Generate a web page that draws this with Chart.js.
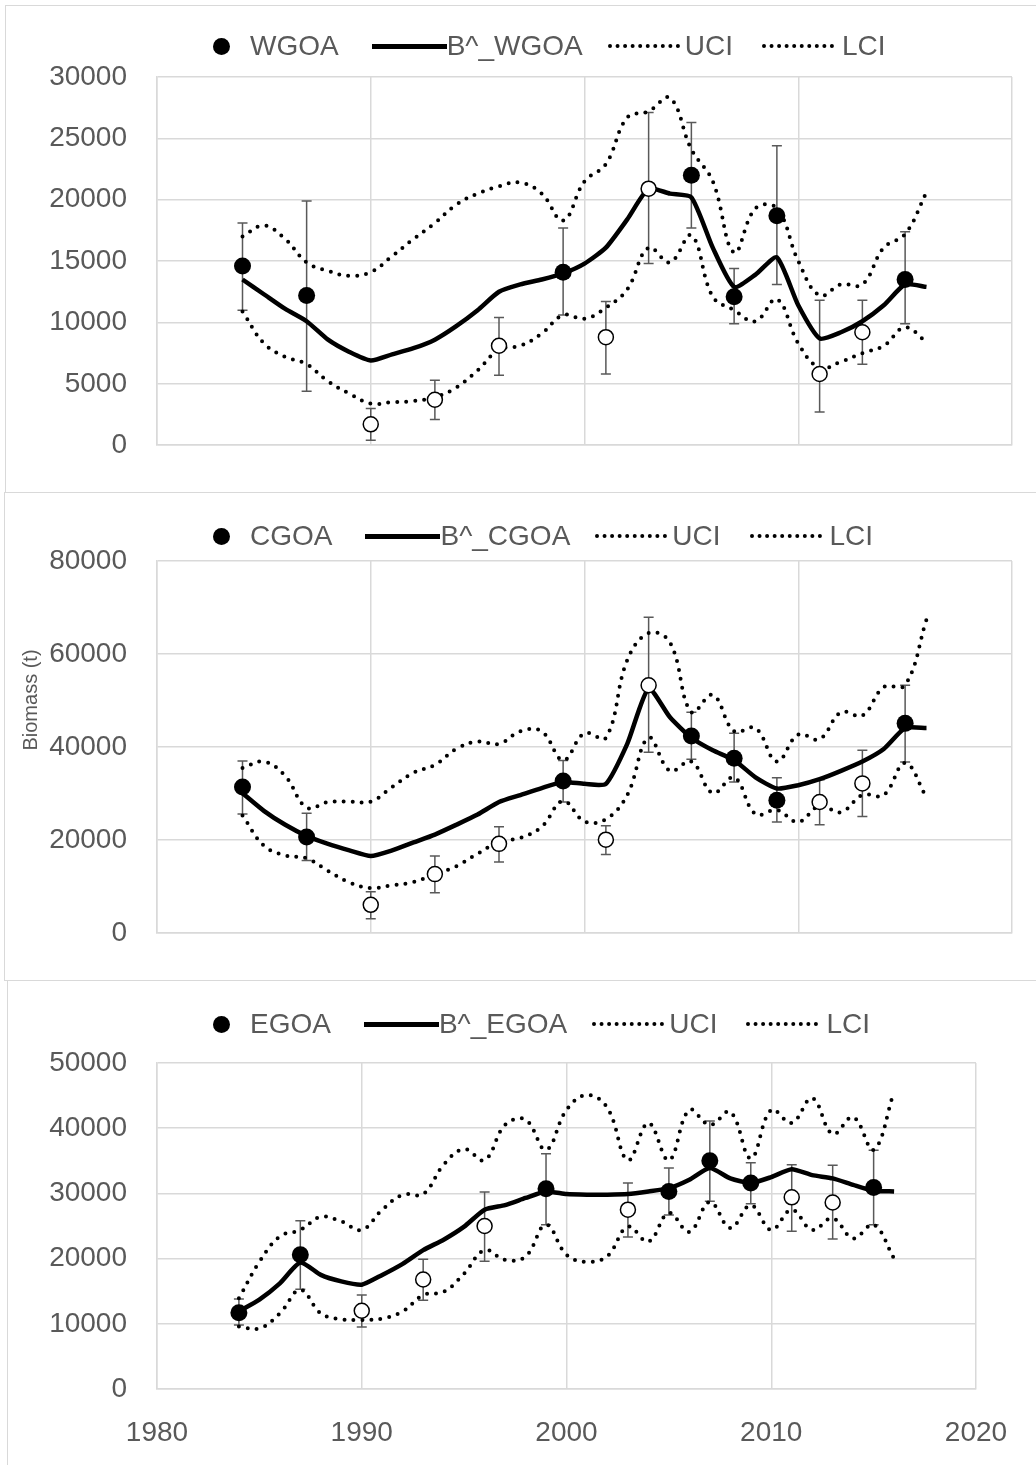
<!DOCTYPE html>
<html>
<head>
<meta charset="utf-8">
<script src="https://cdn.jsdelivr.net/npm/chart.js@4.4.1/dist/chart.umd.min.js"></script>
<style>
  body { margin: 0; width: 1036px; height: 1465px; overflow: hidden; background: #fff; position: relative;
         font-family: "Liberation Sans", Arial, sans-serif; }
  .frame { position: absolute; border: 1.5px solid #d9d9d9; box-sizing: border-box; }
  canvas { position: absolute; left: 0; }
  .legend { position: absolute; left: 213px; display: flex; align-items: center; font-size: 28px;
            line-height: 34px; color: #595959; white-space: nowrap; }
  .dot { width: 17px; height: 17px; border-radius: 50%; background: #000; }
  .solid { width: 75px; height: 5px; background: #000; }
  .dotted { width: 72px; height: 0; border-top: 4px dotted #000; }
  .ytitle { position: absolute; left: -40px; top: 688px; width: 140px; height: 24px; line-height: 24px;
            text-align: center; font-size: 20px; color: #595959; transform: rotate(-90deg); }
</style>
</head>
<body>
<div class="frame" style="left:5px;top:5px;width:1100px;height:488px"></div>
<div class="frame" style="left:4px;top:492px;width:1100px;height:489px"></div>
<div class="frame" style="left:7px;top:980px;width:1100px;height:600px"></div>

<canvas id="c-wgoa" width="1036" height="492" style="top:0px"></canvas>
<canvas id="c-cgoa" width="1036" height="487" style="top:493px"></canvas>
<canvas id="c-egoa" width="1036" height="484" style="top:981px"></canvas>

<div class="legend" id="lg-wgoa" style="top:29px"></div>
<div class="legend" id="lg-cgoa" style="top:519px"></div>
<div class="legend" id="lg-egoa" style="top:1007px"></div>
<div class="ytitle">Biomass (t)</div>

<script>
// model years for B^ and the confidence limits
let modelYears = [1984, 1985, 1986, 1987, 1988, 1989, 1990, 1991, 1992, 1993, 1994, 1995, 1996, 1997, 1998, 1999, 2000,
    2001, 2002, 2003, 2004, 2005, 2006, 2007, 2008, 2009, 2010, 2011, 2012, 2013, 2014, 2015, 2016];

// ---- WGOA ----
let wYears = [1984, 1987, 1990, 1993, 1996, 1999, 2001, 2003, 2005, 2007, 2009, 2011, 2013, 2015];
let wObs = [14600, 12200, 1700, 3700, 8100, 14100, 8800, 20900, 22000, 12100, 18700, 5800, 9200, 13500];
let wHi = [18100, 19900, 3000, 5300, 10400, 17700, 11700, 27100, 26300, 14400, 24400, 11800, 11800, 17400];
let wLo = [11000, 4400, 400, 2100, 5700, 10600, 5800, 14800, 17700, 9900, 13100, 2700, 6600, 9900];
let wOpen = [1990, 1993, 1996, 2001, 2003, 2011, 2013];
let wFit = [13500, 12300, 11100, 10100, 8600, 7600, 6900, 7400, 7900, 8600, 9700, 11000, 12500, 13100, 13500, 14000, 14800,
    16100, 18400, 20900, 20500, 20200, 16100, 12900, 13900, 15300, 11400, 8700, 9200, 10100, 11400, 13100, 12900];
let wUci = [17000, 17900, 16800, 14900, 14200, 13800, 14100, 15400, 16800, 18100, 19600, 20500, 21100, 21400, 20500, 18300, 21500,
    22900, 26700, 27200, 28300, 24100, 21500, 15700, 19300, 19300, 15000, 12200, 13100, 13100, 16100, 17200, 20600];
let wLci = [10900, 8300, 7200, 6600, 5200, 4200, 3400, 3500, 3600, 3900, 4700, 6100, 7800, 8100, 9100, 10600, 10300,
    11200, 12700, 16100, 14900, 17100, 12100, 11000, 10100, 11900, 8300, 6300, 6800, 7500, 8100, 9600, 8400];

// ---- CGOA ----
let cYears = [1984, 1987, 1990, 1993, 1996, 1999, 2001, 2003, 2005, 2007, 2009, 2011, 2013, 2015];
let cObs = [31400, 20700, 6100, 12700, 19200, 32700, 20100, 53300, 42400, 37600, 28600, 28200, 32200, 45100];
let cHi = [37000, 25800, 8900, 16600, 22900, 37100, 23100, 67900, 47500, 43000, 33400, 33000, 39300, 53300];
let cLo = [25600, 15600, 3100, 8700, 15300, 28200, 16900, 38900, 37400, 32500, 23900, 23300, 25100, 36800];
let cOpen = [1990, 1993, 1996, 2001, 2003, 2011, 2013];
let cFit = [30100, 26300, 23300, 20900, 19200, 17800, 16600, 17800, 19500, 21200, 23300, 25500, 28200, 29700, 31200, 32500, 32100,
    32100, 40700, 52600, 46400, 42000, 39300, 37200, 33500, 31100, 31800, 33100, 34900, 36900, 39600, 44100, 44100];
let cUci = [35500, 36900, 33800, 27000, 28200, 28300, 28300, 31400, 34500, 36200, 39600, 41200, 40700, 43400, 43400, 37200, 43000,
    42000, 58700, 64500, 62500, 47500, 51200, 43400, 44100, 36900, 42700, 41700, 47500, 46800, 52900, 53300, 67400];
let cLci = [25300, 18800, 16700, 16100, 13400, 10900, 9700, 10300, 11000, 12700, 14400, 17100, 19600, 20500, 22900, 28400, 24000,
    24500, 29700, 42000, 34900, 36900, 30100, 33500, 25600, 26500, 23900, 27400, 26000, 29700, 29700, 36600, 29200];

// ---- EGOA ----
let eYears = [1984, 1987, 1990, 1993, 1996, 1999, 2003, 2005, 2007, 2009, 2011, 2013, 2015];
let eObs = [11700, 20600, 12000, 16800, 25000, 30700, 27500, 30300, 35000, 31600, 29400, 28600, 30900];
let eHi = [13800, 25800, 14400, 19900, 30200, 36100, 31600, 33900, 41100, 34700, 34400, 34300, 36600];
let eLo = [9800, 15300, 9500, 13600, 19600, 25200, 23300, 26700, 28800, 28400, 24200, 23000, 25200];
let eOpen = [1990, 1993, 1996, 2003, 2011, 2013];
let eFit = [11900, 13700, 16200, 19400, 17500, 16500, 16000, 17500, 19200, 21300, 22900, 24900, 27500, 28200, 29300, 30300, 29900,
    29800, 29800, 29900, 30300, 30800, 32100, 33900, 32300, 31600, 32500, 33700, 32800, 32300, 31300, 30400, 30300];
let eUci = [13900, 19500, 23400, 24400, 26400, 25700, 24400, 27500, 29800, 29900, 34400, 36800, 35100, 40500, 41300, 36700, 42800,
    45100, 43100, 35100, 40800, 35100, 42800, 40500, 42500, 35400, 42800, 40800, 44600, 39100, 41700, 36700, 45600];
let eLci = [9600, 9300, 11600, 15200, 11600, 10700, 10600, 10800, 11900, 14400, 14900, 17700, 21300, 19800, 20300, 25200, 20600,
    19500, 20400, 24900, 22600, 27000, 24100, 28700, 24700, 28200, 24400, 27500, 24400, 26200, 23100, 25200, 20000];

const TXT = '#595959';
const GRID = '#d9d9d9';

function pts(xs, ys) {
    return xs.map((x, i) => ({ x: x, y: ys[i] }));
}

function make_error_bars(years, lo, hi) {
    return {
        id: 'errorBars',
        beforeDatasetsDraw(chart) {
            const ctx = chart.ctx;
            const x = chart.scales.x, y = chart.scales.y;
            ctx.save();
            ctx.strokeStyle = '#595959';
            ctx.lineWidth = 1.5;
            years.forEach((yr, i) => {
                const px = x.getPixelForValue(yr);
                const top = y.getPixelForValue(hi[i]);
                const bot = y.getPixelForValue(lo[i]);
                ctx.beginPath();
                ctx.moveTo(px, top); ctx.lineTo(px, bot);
                ctx.moveTo(px - 5, top); ctx.lineTo(px + 5, top);
                ctx.moveTo(px - 5, bot); ctx.lineTo(px + 5, bot);
                ctx.stroke();
            });
            ctx.restore();
        }
    };
}

function make_legend(id, name) {
    const el = document.getElementById(id);
    el.innerHTML = `
      <div class="dot"></div><span style="margin-left:20px">${name}</span>
      <div class="solid" style="margin-left:33px"></div><span>B^_${name}</span>
      <div class="dotted" style="margin-left:25px"></div><span style="margin-left:5px">UCI</span>
      <div class="dotted" style="margin-left:29px"></div><span style="margin-left:8px">LCI</span>`;
}

function make_panel(canvasId, cfg) {
    const filled = cfg.years.map((yr, i) => cfg.open.includes(yr) ? null : { x: yr, y: cfg.obs[i] }).filter(p => p);
    const hollow = cfg.years.map((yr, i) => cfg.open.includes(yr) ? { x: yr, y: cfg.obs[i] } : null).filter(p => p);
    const tickFont = { family: '"Liberation Sans", Arial, sans-serif', size: 28 };
    return new Chart(document.getElementById(canvasId), {
        type: 'scatter',
        data: {
            datasets: [
                { label: cfg.name, data: filled, pointRadius: 8.5, pointBackgroundColor: '#000', pointBorderWidth: 0, order: 0 },
                { label: cfg.name + ' (open)', data: hollow, pointRadius: 7.5, pointBackgroundColor: '#fff',
                  pointBorderColor: '#000', pointBorderWidth: 1.5, order: 0 },
                { label: 'B^_' + cfg.name, data: pts(modelYears, cfg.fit), showLine: true, borderColor: '#000',
                  borderWidth: 4.5, pointRadius: 0, tension: 0.2, order: 1 },
                { label: 'UCI', data: pts(modelYears, cfg.uci), showLine: true, borderColor: '#000', borderWidth: 4,
                  borderDash: [0, 9], borderCapStyle: 'round', pointRadius: 0, tension: 0.4, order: 2 },
                { label: 'LCI', data: pts(modelYears, cfg.lci), showLine: true, borderColor: '#000', borderWidth: 4,
                  borderDash: [0, 9], borderCapStyle: 'round', pointRadius: 0, tension: 0.4, order: 2 }
            ]
        },
        options: {
            responsive: false,
            animation: false,
            devicePixelRatio: 1,
            layout: { padding: { top: cfg.top, right: cfg.right, bottom: cfg.bottom, left: 0 } },
            plugins: { legend: { display: false }, tooltip: { enabled: false } },
            scales: {
                x: {
                    type: 'linear', min: 1980, max: 2020,
                    ticks: { stepSize: 10, display: cfg.showX, color: TXT, font: tickFont, padding: 27,
                             callback: v => String(v) },
                    grid: { color: GRID, lineWidth: 1.5, drawTicks: false },
                    border: { color: GRID, width: 1.5 },
                    afterFit: s => { s.height = cfg.xHeight; }
                },
                y: {
                    min: 0, max: cfg.ymax,
                    ticks: { stepSize: cfg.step, color: TXT, font: tickFont, padding: 30, callback: v => String(v) },
                    grid: { color: GRID, lineWidth: 1.5, drawTicks: false },
                    border: { color: GRID, width: 1.5 },
                    afterFit: s => { s.width = 157; }
                }
            }
        },
        plugins: [make_error_bars(cfg.years, cfg.lo, cfg.hi)]
    });
}

make_panel('c-wgoa', { name: 'WGOA', years: wYears, obs: wObs, lo: wLo, hi: wHi, open: wOpen, fit: wFit, uci: wUci, lci: wLci,
    ymax: 30000, step: 5000, top: 77, right: 24, bottom: 28, xHeight: 0, showX: false });
make_panel('c-cgoa', { name: 'CGOA', years: cYears, obs: cObs, lo: cLo, hi: cHi, open: cOpen, fit: cFit, uci: cUci, lci: cLci,
    ymax: 80000, step: 20000, top: 68, right: 24, bottom: 28, xHeight: 0, showX: false });
make_panel('c-egoa', { name: 'EGOA', years: eYears, obs: eObs, lo: eLo, hi: eHi, open: eOpen, fit: eFit, uci: eUci, lci: eLci,
    ymax: 50000, step: 10000, top: 82, right: 60, bottom: 0, xHeight: 76, showX: true });

make_legend('lg-wgoa', 'WGOA');
make_legend('lg-cgoa', 'CGOA');
make_legend('lg-egoa', 'EGOA');
</script>
</body>
</html>
